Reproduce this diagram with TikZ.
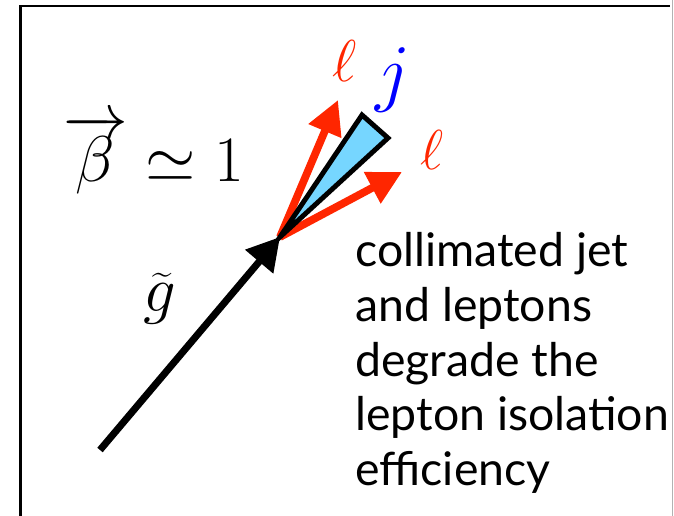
\documentclass[tikz,border=0pt]{standalone}
\usepackage{fix-cm}
\usepackage{exscale}
\usepackage{fontspec}
\setsansfont{Lato}
\usetikzlibrary{arrows.meta}

\definecolor{lepred}{RGB}{255,38,0}
\definecolor{jetfill}{RGB}{118,214,255}
\definecolor{jetblue}{RGB}{0,0,255}

\tikzset{
  lepton/.style={lepred, line width=5.5pt, -{Triangle[length=24pt,width=24pt]}},
  gluino/.style={black, line width=5pt, -{Triangle[length=23pt,width=25pt]}},
  jetcone/.style={draw=black, fill=jetfill, line width=3.5pt, line join=miter},
  bigmath/.style={inner sep=0pt, font=\fontsize{46}{50}\selectfont},
}

\begin{document}
\begin{tikzpicture}
  \useasboundingbox (0,0) rectangle (16.85,12.9);

  % Frame
  \draw[line width=1.5pt] (0.5125,0) -- (0.5125,12.75) -- (16.75,12.75);
  \draw[gray!60, line width=0.5pt] (16.81,0) -- (16.81,12.9);

  % Vertex and end points
  \coordinate (vtx) at (7.0,6.975);
  \coordinate (gstart) at (2.5,1.65);
  \coordinate (lepA) at (8.45,10.4);
  \coordinate (lepB) at (10.05,8.6);
  \coordinate (jetA) at (9.05,10.025);
  \coordinate (jetB) at (9.7,9.45);

  % Leptons
  \draw[lepton] (vtx) -- (lepA);
  \draw[lepton] (vtx) -- (lepB);

  % Jet
  \draw[jetcone] (vtx) -- (jetA) -- (jetB) -- cycle;

  % Gluino
  \draw[gluino] (gstart) -- (vtx);

  % Labels
  \node[inner sep=0pt, text=lepred, font=\fontsize{42}{46}\selectfont] (lepAlbl) at (8.625,11.375) {$\ell$};
  \node[inner sep=0pt, text=jetblue, font=\fontsize{54}{58}\selectfont] (jetlbl) at (9.825,10.9) {$j$};
  \node[inner sep=0pt, text=lepred, font=\fontsize{40}{44}\selectfont] (lepBlbl) at (10.8,9.15) {$\ell$};
  \node[bigmath, anchor=base west] (beta) at (1.575,8.35) {$\overrightarrow{\beta}\simeq 1$};
  \node[bigmath] (gtilde) at (4.0,5.425) {$\widetilde{g}$};

  % Caption
  \node[anchor=north west, inner sep=0pt, align=left,
        font=\sffamily\fontsize{33}{39}\selectfont] (caption) at (8.875,7.1)
        {collimated jet\\and leptons\\degrade the\\lepton isolation\\efficiency};
\end{tikzpicture}
\end{document}
